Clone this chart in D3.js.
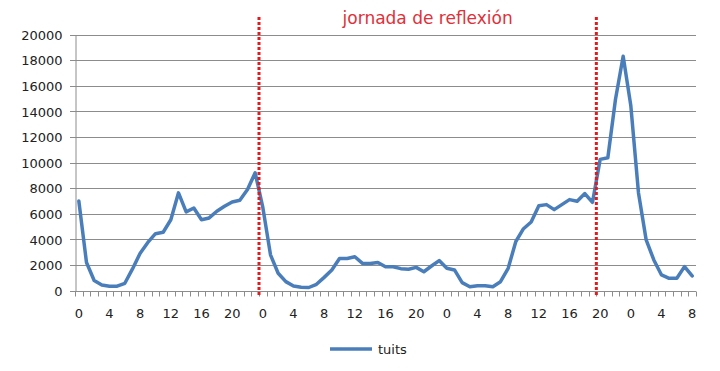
<!DOCTYPE html>
<html>
<head>
<meta charset="utf-8">
<style>
  body { margin: 0; background: #fff; }
  svg text { font-family: "DejaVu Sans", sans-serif; fill: #222; }
</style>
</head>
<body>
<svg id="chart" width="720" height="371"></svg>
<script src="https://d3js.org/d3.v7.min.js"></script>
<script>
// tweets per hour, 3 days and a bit
var day1 = [7000, 2200, 800, 450, 350, 350, 580, 1700, 2930, 3770, 4450, 4560,
            5540, 7640, 6150, 6460, 5540, 5680, 6200, 6590, 6930, 7060, 7900, 9200];
var day2 = [6500, 2800, 1360, 710, 370, 270, 250, 500, 1040, 1610, 2520, 2520,
            2650, 2130, 2130, 2200, 1870, 1870, 1720, 1670, 1820, 1480, 1930, 2350];
var day3 = [1750, 1620, 630, 310, 390, 390, 310, 700, 1750, 3840, 4840, 5360,
            6640, 6720, 6330, 6720, 7110, 6980, 7580, 6900, 10250, 10380, 14950, 18300];
var day4 = [14430, 7630, 3970, 2400, 1230, 970, 970, 1880, 1150];
var yTicks = [0, 2000, 4000, 6000, 8000, 10000, 12000, 14000, 16000, 18000, 20000];
var markers = [24, 68];   // category index where the dotted lines sit
var seriesName = "tuits";
var markerLabel = "jornada de reflexión";

var tuits = day1.concat(day2, day3, day4);
var idx = d3.range(tuits.length);

var svg = d3.select("#chart");
var m = {left: 75, right: 696, top: 34.5, bottom: 290.7};

var x = d3.scaleBand().domain(idx).range([m.left, m.right]).padding(0);
var y = d3.scaleLinear().domain([0, 20000]).range([m.bottom, m.top]);

// gridlines
svg.append("g").selectAll("line")
  .data(yTicks)
  .enter().append("line")
    .attr("x1", m.left - 5).attr("x2", m.right)
    .attr("y1", function(d) { return Math.round(y(d)) + 0.5; })
    .attr("y2", function(d) { return Math.round(y(d)) + 0.5; })
    .attr("stroke", "#8c8c8c").attr("stroke-width", 1);

// y axis
var yAxis = svg.append("g")
    .attr("transform", "translate(" + (m.left + 0.5) + ",0)")
    .call(d3.axisLeft(y).tickValues(yTicks).tickSize(0).tickPadding(13).tickFormat(d3.format("d")));
yAxis.select(".domain").attr("stroke", "#8c8c8c");
yAxis.selectAll("text").attr("font-size", 13).attr("dy", "0.36em")
  .style("font-family", "DejaVu Sans").style("fill", "#222");

// x axis: a tick at each band edge, label every 4 hours
var xAxis = svg.append("g")
    .attr("transform", "translate(0," + (Math.round(m.bottom) + 0.5) + ")");
xAxis.append("line").attr("x1", m.left).attr("x2", m.right).attr("stroke", "#8c8c8c");
xAxis.selectAll("line.tk")
  .data(idx.concat([tuits.length]))
  .enter().append("line")
    .attr("class", "tk")
    .attr("x1", function(d) { return Math.round(m.left + d * x.bandwidth()) + 0.5; })
    .attr("x2", function(d) { return Math.round(m.left + d * x.bandwidth()) + 0.5; })
    .attr("y1", 0).attr("y2", 5)
    .attr("stroke", "#8c8c8c");
xAxis.selectAll("text")
  .data(idx.filter(function(i) { return i % 4 == 0; }))
  .enter().append("text")
    .attr("x", function(i) { return x(i) + x.bandwidth() / 2; })
    .attr("y", 26)
    .attr("text-anchor", "middle")
    .attr("font-size", 13)
    .text(function(i) { return i % 24; });

// series line
var line = d3.line()
    .x(function(d, i) { return x(i) + x.bandwidth() / 2; })
    .y(function(d) { return y(d); });

svg.append("path")
    .datum(tuits)
    .attr("d", line)
    .attr("fill", "none")
    .attr("stroke", "#4a7ebb")
    .attr("stroke-width", 3.5)
    .attr("stroke-linejoin", "round")
    .attr("stroke-linecap", "round");

// dotted markers
svg.append("g").selectAll("line")
  .data(markers)
  .enter().append("line")
    .attr("x1", function(d) { return x(d); })
    .attr("x2", function(d) { return x(d); })
    .attr("y1", 17).attr("y2", 296)
    .attr("stroke", "#e3191c")
    .attr("stroke-width", 3)
    .attr("stroke-dasharray", "3,2");

svg.append("text")
    .attr("x", (x(markers[0]) + x(markers[1])) / 2)
    .attr("y", 24)
    .attr("text-anchor", "middle")
    .attr("font-size", 17)
    .style("fill", "#e0303a")
    .text(markerLabel);

// legend
var lg = svg.append("g").attr("transform", "translate(330,349)");
lg.append("line").attr("x1", 0).attr("x2", 42).attr("y1", 0).attr("y2", 0)
  .attr("stroke", "#4a7ebb").attr("stroke-width", 3.5);
lg.append("text").attr("x", 48).attr("y", 0).attr("dy", "0.35em")
  .attr("font-size", 13).text(seriesName);
</script>
</body>
</html>
